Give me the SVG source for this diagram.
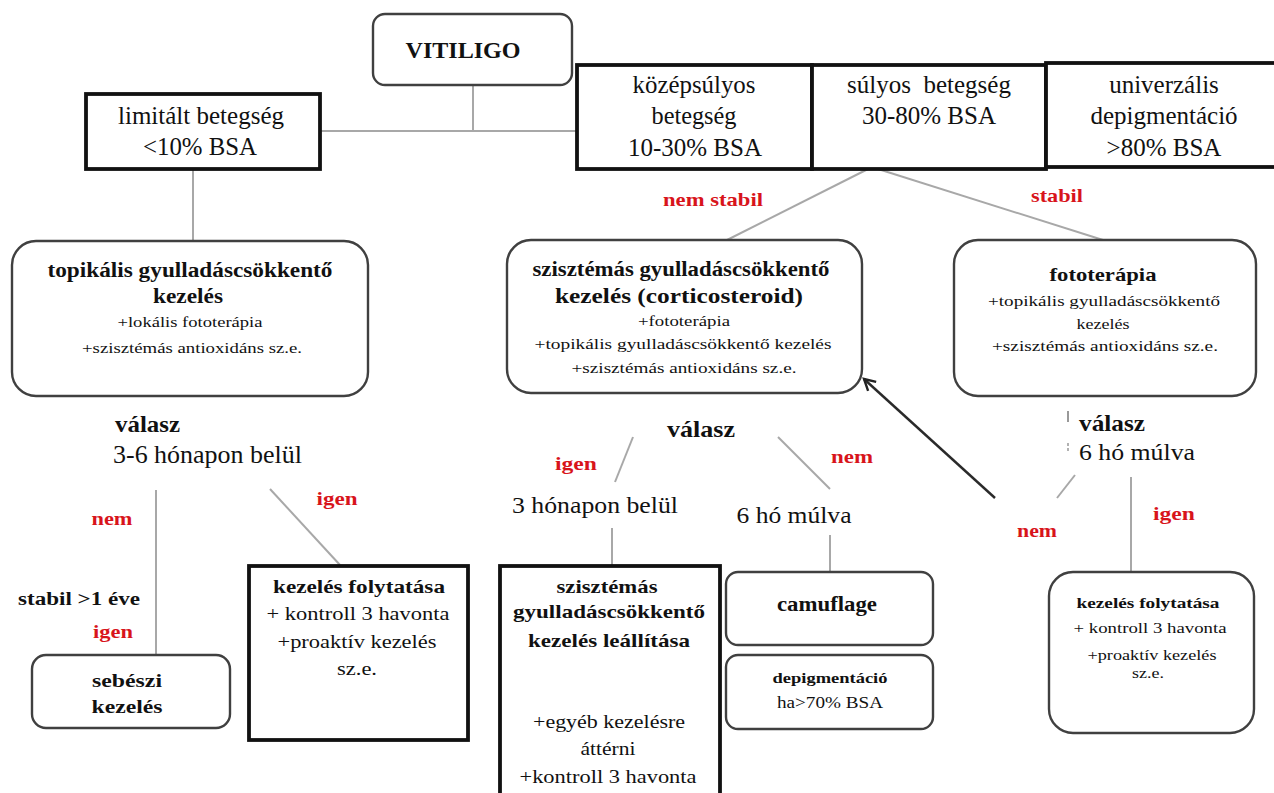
<svg xmlns="http://www.w3.org/2000/svg" width="1274" height="793" viewBox="0 0 1274 793" font-family="'Liberation Serif', 'DejaVu Serif', serif">
<defs>
<style>
text{font-family:"Liberation Serif","DejaVu Serif",serif;fill:#111;text-anchor:middle}
.s{text-anchor:start}
.b{font-weight:bold}
.red{fill:#d8141b;font-weight:bold;font-size:19px}
.rnd{fill:#fff;stroke:#404040;stroke-width:2.4}
.sq{fill:#fff;stroke:#111;stroke-width:3.8}
.con line{stroke:#a8a8a8;stroke-width:2;fill:none}
</style>
<marker id="ah" markerWidth="16" markerHeight="16" refX="13" refY="8" orient="auto" markerUnits="userSpaceOnUse">
<path d="M2,2 L13,8 L2,14" fill="none" stroke="#222" stroke-width="2.4"/>
</marker>
</defs>
<rect width="1274" height="793" fill="#fff"/>

<g id="connectors" class="con">
<line x1="473" y1="86" x2="473" y2="131"/>
<line x1="321" y1="131" x2="577" y2="131"/>
<line x1="193" y1="170" x2="193" y2="240"/>
<line x1="868" y1="169" x2="727" y2="240"/>
<line x1="878" y1="169" x2="1103" y2="240"/>
<line x1="156" y1="490" x2="156" y2="655"/>
<line x1="270" y1="489" x2="340" y2="565"/>
<line x1="633" y1="437" x2="615" y2="482"/>
<line x1="778" y1="437" x2="830" y2="489"/>
<line x1="612" y1="528" x2="612" y2="566"/>
<line x1="830" y1="535" x2="830" y2="572"/>
<line x1="1075" y1="475" x2="1057" y2="498"/>
<line x1="1131" y1="477" x2="1131" y2="572"/>
<line x1="1068" y1="411" x2="1068" y2="422" style="stroke:#777;stroke-width:1.5"/>
<line x1="1068" y1="443" x2="1068" y2="451" style="stroke:#999;stroke-width:1.5;stroke-dasharray:3 2"/>
<line x1="995" y1="498" x2="864" y2="379" style="stroke:#2a2a2a;stroke-width:2.4" marker-end="url(#ah)"/>
</g>

<g id="vitiligo">
<rect class="rnd" x="373" y="14" width="199" height="71" rx="12"/>
<text class="b" x="463" y="58" font-size="24" textLength="115" lengthAdjust="spacingAndGlyphs">VITILIGO</text>
</g>

<g id="limitalt">
<rect class="sq" x="86" y="94" width="234" height="75"/>
<text x="201" y="124" font-size="25" textLength="166" lengthAdjust="spacingAndGlyphs">limitált betegség</text>
<text x="200" y="155" font-size="25" textLength="114" lengthAdjust="spacingAndGlyphs">&lt;10% BSA</text>
</g>

<g id="kozepsulyos">
<rect class="sq" x="577" y="65" width="235" height="104"/>
<text x="694" y="93" font-size="25" textLength="123" lengthAdjust="spacingAndGlyphs">középsúlyos</text>
<text x="694" y="124" font-size="25" textLength="85" lengthAdjust="spacingAndGlyphs">betegség</text>
<text x="695" y="156" font-size="25" textLength="134" lengthAdjust="spacingAndGlyphs">10-30% BSA</text>
</g>

<g id="sulyos">
<rect class="sq" x="812" y="65" width="234" height="104"/>
<text x="929" y="93" font-size="25" xml:space="preserve">súlyos  betegség</text>
<text x="929" y="124" font-size="25">30-80% BSA</text>
</g>

<g id="univerzalis">
<rect class="sq" x="1046" y="63" width="232" height="104"/>
<text x="1164" y="93" font-size="25">univerzális</text>
<text x="1164" y="124" font-size="25">depigmentáció</text>
<text x="1164" y="156" font-size="25">&gt;80% BSA</text>
</g>

<text class="red" x="713" y="206" textLength="100" lengthAdjust="spacingAndGlyphs">nem stabil</text>
<text class="red" x="1057" y="202" textLength="52" lengthAdjust="spacingAndGlyphs">stabil</text>

<g id="topikalis">
<rect class="rnd" x="12" y="241" width="356" height="155" rx="24"/>
<text class="b" x="190" y="277" font-size="20" textLength="285" lengthAdjust="spacingAndGlyphs">topikális gyulladáscsökkentő</text>
<text class="b" x="188" y="303" font-size="20" textLength="70" lengthAdjust="spacingAndGlyphs">kezelés</text>
<text x="190" y="327" font-size="15" textLength="145" lengthAdjust="spacingAndGlyphs">+lokális  fototerápia</text>
<text x="192" y="353" font-size="15" textLength="220" lengthAdjust="spacingAndGlyphs">+szisztémás  antioxidáns  sz.e.</text>
</g>

<g id="szisztemas">
<rect class="rnd" x="507" y="240" width="355" height="153" rx="24"/>
<text class="b" x="681" y="276" font-size="20" textLength="297" lengthAdjust="spacingAndGlyphs">szisztémás gyulladáscsökkentő</text>
<text class="b" x="679" y="303" font-size="20" textLength="248" lengthAdjust="spacingAndGlyphs">kezelés (corticosteroid)</text>
<text x="684" y="326" font-size="15" textLength="92" lengthAdjust="spacingAndGlyphs">+fototerápia</text>
<text x="683" y="349" font-size="15" textLength="297" lengthAdjust="spacingAndGlyphs">+topikális  gyulladáscsökkentő  kezelés</text>
<text x="684" y="373" font-size="15" textLength="225" lengthAdjust="spacingAndGlyphs">+szisztémás  antioxidáns  sz.e.</text>
</g>

<g id="fototerapia">
<rect class="rnd" x="954" y="240" width="302" height="156" rx="24"/>
<text class="b" x="1103" y="281" font-size="19" textLength="107" lengthAdjust="spacingAndGlyphs">fototerápia</text>
<text x="1104" y="306" font-size="15" textLength="232" lengthAdjust="spacingAndGlyphs">+topikális  gyulladáscsökkentő</text>
<text x="1103" y="329" font-size="15" textLength="53" lengthAdjust="spacingAndGlyphs">kezelés</text>
<text x="1105" y="351" font-size="15" textLength="226" lengthAdjust="spacingAndGlyphs">+szisztémás  antioxidáns  sz.e.</text>
</g>

<g id="valasz-left">
<text class="b s" x="115" y="432" font-size="23" textLength="65" lengthAdjust="spacingAndGlyphs">válasz</text>
<text class="s" x="113" y="463" font-size="25" textLength="189" lengthAdjust="spacingAndGlyphs">3-6 hónapon  belül</text>
</g>
<text class="red" x="112" y="525" textLength="41" lengthAdjust="spacingAndGlyphs">nem</text>
<text class="b" x="79" y="605" font-size="18" textLength="122" lengthAdjust="spacingAndGlyphs">stabil &gt;1 éve</text>
<text class="red" x="113" y="638" textLength="40" lengthAdjust="spacingAndGlyphs">igen</text>
<text class="red" x="337" y="505" textLength="41" lengthAdjust="spacingAndGlyphs">igen</text>

<g id="sebeszi">
<rect class="rnd" x="32" y="655" width="198" height="73" rx="14"/>
<text class="b" x="127" y="687" font-size="19" textLength="70" lengthAdjust="spacingAndGlyphs">sebészi</text>
<text class="b" x="127" y="713" font-size="19" textLength="71" lengthAdjust="spacingAndGlyphs">kezelés</text>
</g>

<g id="folytatas-left">
<rect class="sq" x="249" y="566" width="219" height="174"/>
<text class="b" x="359" y="593" font-size="18" textLength="172" lengthAdjust="spacingAndGlyphs">kezelés folytatása</text>
<text x="358" y="620" font-size="19" textLength="183" lengthAdjust="spacingAndGlyphs">+ kontroll  3 havonta</text>
<text x="357" y="648" font-size="19" textLength="159" lengthAdjust="spacingAndGlyphs">+proaktív kezelés</text>
<text x="357" y="675" font-size="19" textLength="40" lengthAdjust="spacingAndGlyphs">sz.e.</text>
</g>

<g id="valasz-mid">
<text class="b" x="701" y="437" font-size="23" textLength="68" lengthAdjust="spacingAndGlyphs">válasz</text>
</g>
<text class="red" x="576" y="470" textLength="42" lengthAdjust="spacingAndGlyphs">igen</text>
<text class="red" x="852" y="463" textLength="42" lengthAdjust="spacingAndGlyphs">nem</text>
<text x="595" y="513" font-size="24" textLength="166" lengthAdjust="spacingAndGlyphs">3 hónapon  belül</text>
<text x="794" y="523" font-size="24" textLength="115" lengthAdjust="spacingAndGlyphs">6 hó múlva</text>

<g id="leallitas">
<rect class="sq" x="500" y="566" width="220" height="240"/>
<text class="b" x="607" y="593" font-size="19" textLength="101" lengthAdjust="spacingAndGlyphs">szisztémás</text>
<text class="b" x="609" y="618" font-size="19" textLength="192" lengthAdjust="spacingAndGlyphs">gyulladáscsökkentő</text>
<text class="b" x="609" y="647" font-size="19" textLength="162" lengthAdjust="spacingAndGlyphs">kezelés leállítása</text>
<text x="609" y="728" font-size="19" textLength="152" lengthAdjust="spacingAndGlyphs">+egyéb kezelésre</text>
<text x="608" y="755" font-size="19" textLength="55" lengthAdjust="spacingAndGlyphs">áttérni</text>
<text x="608" y="783" font-size="19" textLength="177" lengthAdjust="spacingAndGlyphs">+kontroll 3 havonta</text>
</g>

<g id="camuflage">
<rect class="rnd" x="726" y="572" width="207" height="73" rx="12"/>
<text class="b" x="827" y="611" font-size="20" textLength="100" lengthAdjust="spacingAndGlyphs">camuflage</text>
</g>

<g id="depigmentacio">
<rect class="rnd" x="726" y="655" width="207" height="74" rx="12"/>
<text class="b" x="830" y="683" font-size="15" textLength="115" lengthAdjust="spacingAndGlyphs">depigmentáció</text>
<text x="830" y="708" font-size="16" textLength="106" lengthAdjust="spacingAndGlyphs">ha&gt;70% BSA</text>
</g>

<g id="valasz-right">
<text class="b s" x="1079" y="431" font-size="23" textLength="66" lengthAdjust="spacingAndGlyphs">válasz</text>
<text class="s" x="1079" y="460" font-size="24" textLength="116" lengthAdjust="spacingAndGlyphs">6 hó múlva</text>
</g>
<text class="red" x="1037" y="537" textLength="40" lengthAdjust="spacingAndGlyphs">nem</text>
<text class="red" x="1174" y="520" textLength="42" lengthAdjust="spacingAndGlyphs">igen</text>

<g id="folytatas-right">
<rect class="rnd" x="1049" y="572" width="205" height="161" rx="24"/>
<text class="b" x="1148" y="608" font-size="15" textLength="143" lengthAdjust="spacingAndGlyphs">kezelés folytatása</text>
<text x="1150" y="633" font-size="15" textLength="153" lengthAdjust="spacingAndGlyphs">+ kontroll  3 havonta</text>
<text x="1152" y="660" font-size="15" textLength="129" lengthAdjust="spacingAndGlyphs">+proaktív  kezelés</text>
<text x="1148" y="678" font-size="14" textLength="32" lengthAdjust="spacingAndGlyphs">sz.e.</text>
</g>
</svg>
